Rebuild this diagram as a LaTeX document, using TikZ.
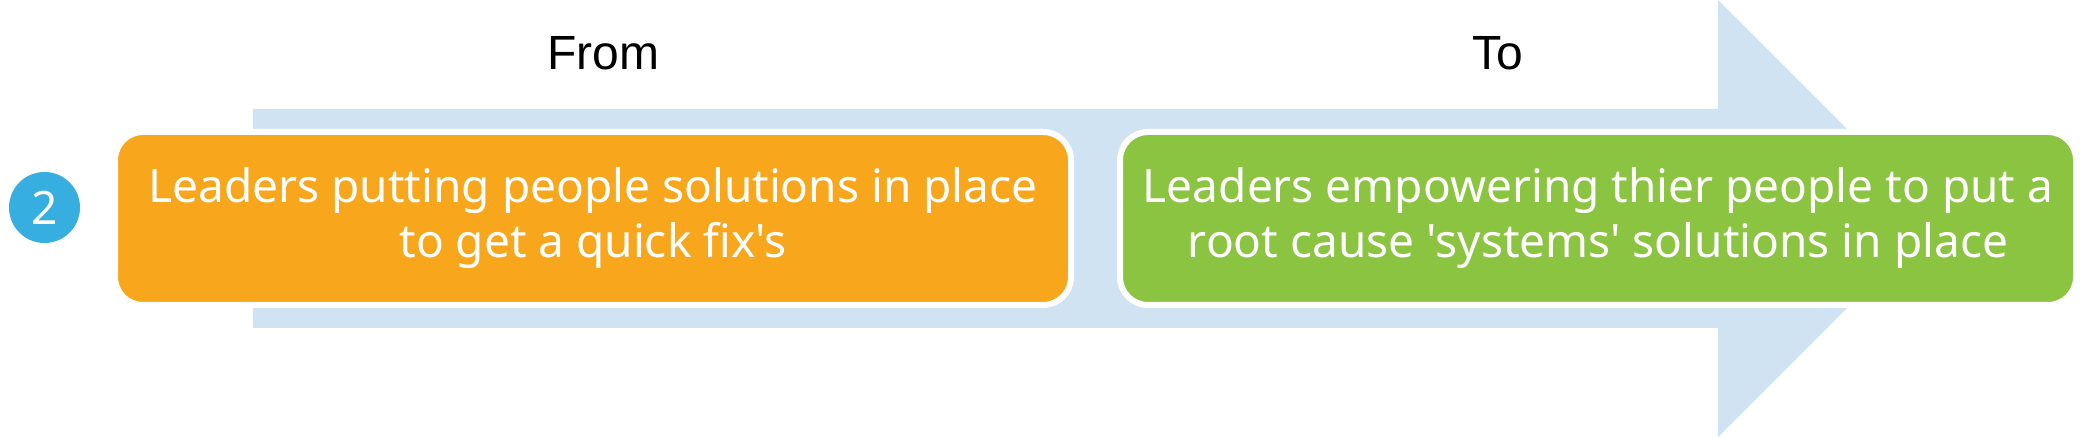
\documentclass[tikz,border=0pt]{standalone}
\usepackage{fontspec}
\setmainfont{Liberation Sans}
\newfontfamily\boxfont{Noto Sans}
\usetikzlibrary{positioning}

\definecolor{shiftblue}{HTML}{CFE3F3}
\definecolor{fromorange}{HTML}{F8A71D}
\definecolor{togreen}{HTML}{8AC441}
\definecolor{stepblue}{HTML}{37AEE0}

\begin{document}
\begin{tikzpicture}[
    x=0.5pt, y=-0.5pt,
    shiftbox/.style={draw=white, line width=3pt, rounded corners=14pt,
                     minimum width=478pt, minimum height=86.5pt,
                     align=center, inner sep=0pt,
                     text=white, font=\boxfont\fontsize{23}{27.5}\selectfont},
    heading/.style={font=\fontsize{24}{28}\selectfont, text=black, anchor=base},
    stepnum/.style={circle, fill=stepblue, minimum size=35.5pt, inner sep=0pt,
                    text=white, font=\boxfont\fontsize{23}{27}\selectfont},
]

\useasboundingbox (0,0) rectangle (2089,437);

% --- background arrow ---
\fill[shiftblue] (253,109) -- (1718,109) -- (1718,0) -- (1936.5,218.5)
    -- (1718,437) -- (1718,328) -- (253,328) -- cycle;

% --- headings ---
\node[heading] (from) at (603,70) {From};
\node[heading] (to) at (1498,70) {To};

% --- step marker ---
\node[stepnum] (num) at (44.5,207.5) {2};

% --- from / to boxes ---
\node[shiftbox, fill=fromorange] (old) at (593,218.5)
    {Leaders putting people solutions in place\\to get a quick fix's};
\node[shiftbox, fill=togreen] (new) at (1598,218.5)
    {Leaders empowering thier people to put a\\root cause 'systems' solutions in place};

\end{tikzpicture}
\end{document}
